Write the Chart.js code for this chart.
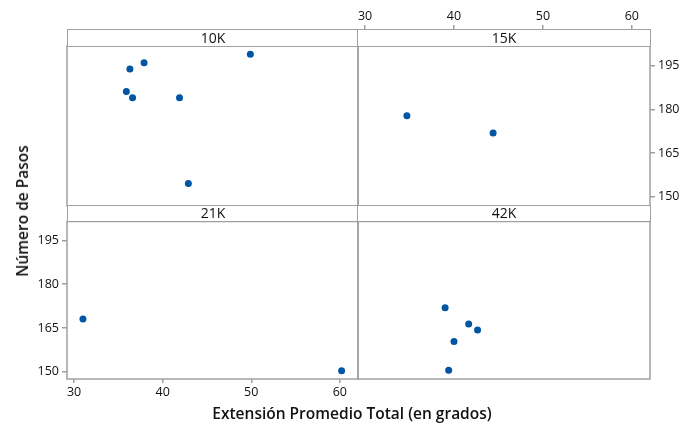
<!DOCTYPE html>
<html>
<head>
<meta charset="utf-8">
<script src="https://cdn.jsdelivr.net/npm/chart.js@4"></script>
<style>
  body { margin: 0; background: #fff; }
  #wrap { position: relative; width: 683px; height: 425px; font-family: "Open Sans", sans-serif; color: #111; }
  #wrap canvas { position: absolute; left: 0; top: 0; }
  .strip { position: absolute; box-sizing: border-box; border: 1.5px solid #a0a0a0; background: #fff;
           text-align: center; font-size: 14px; font-weight: 500; z-index: 2; }
  .ttl { position: absolute; font-size: 15.5px; font-weight: 600; white-space: nowrap; }
</style>
</head>
<body>
<div id="wrap">
  <canvas id="c10" width="683" height="425"></canvas>
  <canvas id="c15" width="683" height="425"></canvas>
  <canvas id="c21" width="683" height="425"></canvas>
  <canvas id="c42" width="683" height="425"></canvas>
  <div class="strip" style="left:67px;top:29px;width:292px;height:18px;line-height:15px">10K</div>
  <div class="strip" style="left:357px;top:29px;width:294px;height:18px;line-height:15px">15K</div>
  <div class="strip" style="left:67px;top:205px;width:292px;height:17px;line-height:14px">21K</div>
  <div class="strip" style="left:357px;top:205px;width:294px;height:17px;line-height:14px">42K</div>
  <div class="ttl" style="left:22px;top:211px;transform:translate(-50%,-50%) rotate(-90deg)">Número de Pasos</div>
  <div class="ttl" style="left:352px;top:413px;transform:translate(-50%,-50%)">Extensión Promedio Total (en grados)</div>
</div>
<script>
// datos por panel (distancia)
const ext10 = [49.9, 37.9, 36.3, 35.9, 36.6, 41.9, 42.9];
const pasos10 = [199.0, 196.0, 193.9, 186.2, 184.0, 184.0, 154.5];
const ext15 = [34.7, 44.4];
const pasos15 = [177.8, 171.9];
const ext21 = [31.0, 60.2];
const pasos21 = [168.1, 150.3];
const ext42 = [39.0, 41.65, 42.65, 40.0, 39.4];
const pasos42 = [171.9, 166.4, 164.3, 160.4, 150.5];

const xTicks = [30, 40, 50, 60];
const yTicks = [150, 165, 180, 195];

const blue = "#0055a5";
const frame = "#a0a0a0";
const tickFont = { family: "Open Sans", size: 12.5, weight: 500 };

// marco gris del panel
const framePlugin = {
  id: "frame",
  afterDraw(chart) {
    const a = chart.chartArea;
    const ctx = chart.ctx;
    ctx.save();
    ctx.strokeStyle = frame;
    ctx.lineWidth = 1.5;
    ctx.strokeRect(a.left, a.top, a.right - a.left, a.bottom - a.top);
    ctx.restore();
  }
};

function points(xs, ys) {
  return xs.map((v, i) => ({ x: v, y: ys[i] }));
}

function makePanel(id, xs, ys, pad, yMin, yMax, axes) {
  const scales = {
    x: { type: "linear", min: 29.2, max: 62.05, display: false },
    y: { type: "linear", min: yMin, max: yMax, display: false }
  };
  if (axes) {
    Object.assign(scales.x, {
      display: true,
      position: axes.x,
      weight: 1,
      afterBuildTicks: s => { s.ticks = xTicks.map(v => ({ value: v })); },
      afterFit: s => { s.height = axes.xSize; },
      grid: { drawOnChartArea: false, drawTicks: true, tickLength: 4, color: frame, lineWidth: 1.5 },
      border: { display: false },
      ticks: { font: tickFont, color: "#111", padding: axes.x === "top" ? 1 : 2, maxRotation: 0 }
    });
    Object.assign(scales.y, {
      display: true,
      position: axes.y,
      afterBuildTicks: s => { s.ticks = yTicks.map(v => ({ value: v })); },
      afterFit: s => { s.width = axes.ySize; },
      grid: { drawOnChartArea: false, drawTicks: true, tickLength: 5, color: frame, lineWidth: 1.5 },
      border: { display: false },
      ticks: { font: tickFont, color: "#111", padding: 3 }
    });
    if (axes.x === "top") {
      // hueco para la franja del panel entre el eje y el área
      scales.gap = {
        type: "linear", position: "top", weight: 0, display: true,
        ticks: { display: false }, grid: { display: false }, border: { display: false },
        afterFit: s => { s.height = 17; }
      };
    }
  }
  return new Chart(document.getElementById(id), {
    type: "scatter",
    data: {
      datasets: [{
        data: points(xs, ys),
        backgroundColor: blue,
        borderColor: blue,
        pointRadius: 3.5,
        borderWidth: 0
      }]
    },
    options: {
      responsive: false,
      animation: false,
      layout: { padding: pad },
      plugins: { legend: { display: false }, tooltip: { enabled: false } },
      scales: scales
    },
    plugins: [framePlugin]
  });
}

makePanel("c10", ext10, pasos10, { left: 67, top: 46, right: 325, bottom: 219 }, 146.8, 201.8, null);
makePanel("c15", ext15, pasos15, { left: 358, top: 0, right: 0, bottom: 219 }, 146.8, 201.8,
  { x: "top", xSize: 29, y: "right", ySize: 33 });
makePanel("c21", ext21, pasos21, { left: 0, top: 221.5, right: 325, bottom: 0 }, 147.5, 201.5,
  { x: "bottom", xSize: 46, y: "left", ySize: 67 });
makePanel("c42", ext42, pasos42, { left: 358, top: 221.5, right: 33, bottom: 46 }, 147.5, 201.5, null);
</script>
</body>
</html>
